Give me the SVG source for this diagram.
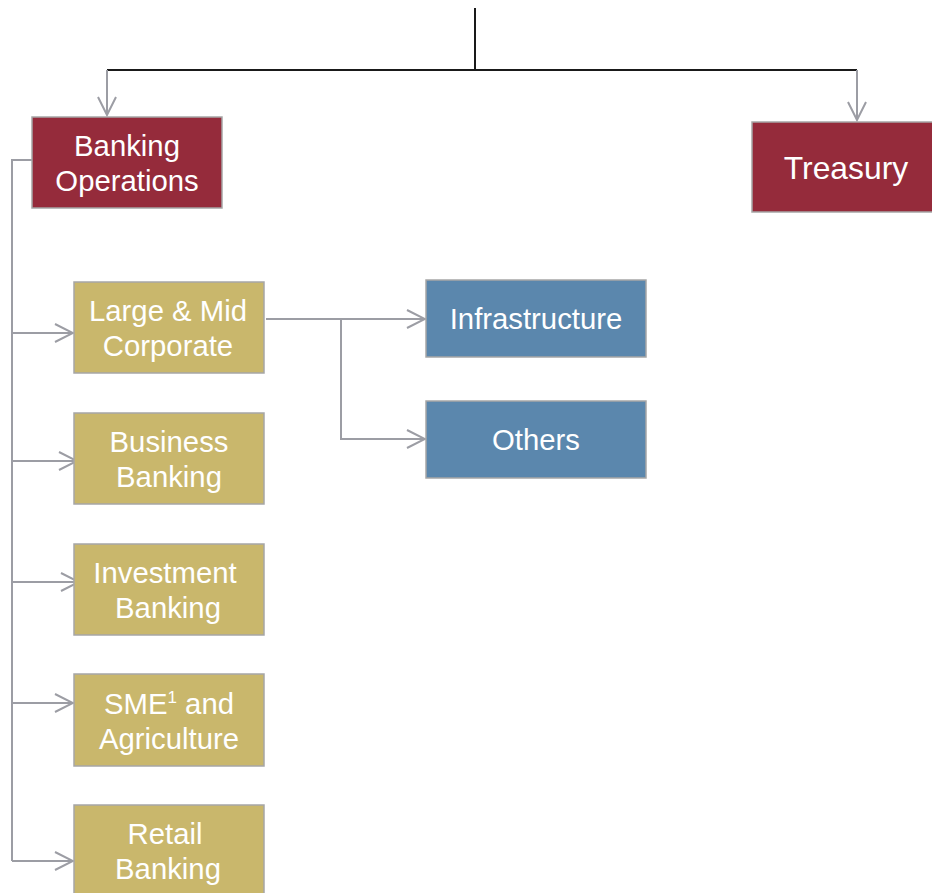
<svg xmlns="http://www.w3.org/2000/svg" width="932" height="893" viewBox="0 0 932 893">
<style>
.red{fill:#952B3B;stroke:#A6A6A6;stroke-width:1.5}
.gold{fill:#C9B76C;stroke:#A6A6A6;stroke-width:1.5}
.blue{fill:#5B87AD;stroke:#A6A6A6;stroke-width:1.5}
.t{font-family:"Liberation Sans",Arial,sans-serif;font-size:29.3px;fill:#FFFFFF;text-anchor:middle}
.c{fill:none;stroke:#9C9DA4;stroke-width:2}
.k{fill:none;stroke:#1A1A1A;stroke-width:2}
</style>
<defs>
<marker id="arr" markerUnits="userSpaceOnUse" viewBox="-20 -11 22 22" refX="0" refY="0" markerWidth="22" markerHeight="22" orient="auto">
<path d="M-18,-9 L0,0 L-18,9" fill="none" stroke="#9C9DA4" stroke-width="2"/>
</marker>
</defs>
<rect width="932" height="893" fill="#FFFFFF"/>
<g id="connectors">
<path class="k" d="M475,8 V70 M107,70 H857"/>
<path class="c" d="M107,70 V115" marker-end="url(#arr)"/>
<path class="c" d="M857,70 V120" marker-end="url(#arr)"/>
<path class="c" d="M32,160 H12 V861"/>
<path class="c" d="M12,333 H73" marker-end="url(#arr)"/>
<path class="c" d="M12,461 H77" marker-end="url(#arr)"/>
<path class="c" d="M12,582 H79" marker-end="url(#arr)"/>
<path class="c" d="M12,703 H73" marker-end="url(#arr)"/>
<path class="c" d="M12,861 H73" marker-end="url(#arr)"/>
<path class="c" d="M266,319 H425" marker-end="url(#arr)"/>
<path class="c" d="M341,319 V439 H425" marker-end="url(#arr)"/>
</g>
<g id="banking-operations">
<rect class="red" x="32" y="117" width="190" height="91"/>
<text class="t" x="127" y="156">Banking</text>
<text class="t" x="127" y="191">Operations</text>
</g>
<g id="treasury">
<rect class="red" x="752" y="122" width="190" height="90"/>
<text class="t" x="846" y="179" style="font-size:31.8px">Treasury</text>
</g>
<g id="large-mid-corporate">
<rect class="gold" x="74" y="282" width="190" height="91"/>
<text class="t" x="168" y="321">Large &amp; Mid</text>
<text class="t" x="168" y="356">Corporate</text>
</g>
<g id="business-banking">
<rect class="gold" x="74" y="413" width="190" height="91"/>
<text class="t" x="169" y="452">Business</text>
<text class="t" x="169" y="487">Banking</text>
</g>
<g id="investment-banking">
<rect class="gold" x="74" y="544" width="190" height="91"/>
<text class="t" x="165" y="583">Investment</text>
<text class="t" x="168" y="618">Banking</text>
</g>
<g id="sme-agriculture">
<rect class="gold" x="74" y="674" width="190" height="92"/>
<text class="t" x="169" y="714">SME<tspan style="font-size:17px" dy="-11">1</tspan><tspan dy="11"> and</tspan></text>
<text class="t" x="169" y="749">Agriculture</text>
</g>
<g id="retail-banking">
<rect class="gold" x="74" y="805" width="190" height="100"/>
<text class="t" x="165" y="844">Retail</text>
<text class="t" x="168" y="879">Banking</text>
</g>
<g id="infrastructure">
<rect class="blue" x="426" y="280" width="220" height="77"/>
<text class="t" x="536" y="329">Infrastructure</text>
</g>
<g id="others">
<rect class="blue" x="426" y="401" width="220" height="77"/>
<text class="t" x="536" y="450">Others</text>
</g>
</svg>
